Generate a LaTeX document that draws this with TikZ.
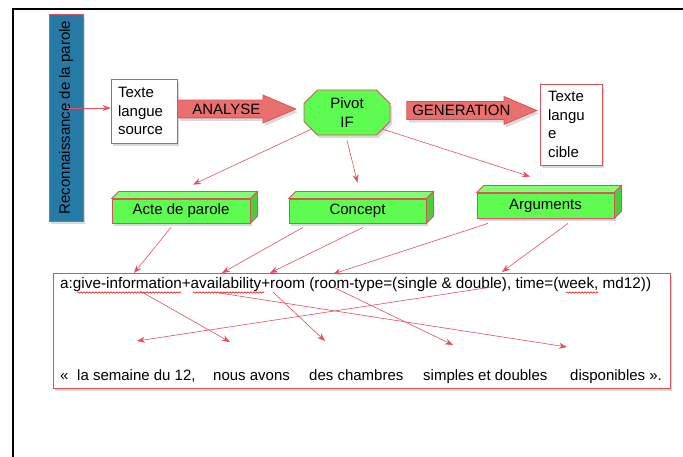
\documentclass[tikz,border=0pt]{standalone}
\usepackage{fontspec}
\setmainfont{Liberation Sans}
\usetikzlibrary{arrows.meta,shapes.arrows,shapes.misc,shadows,decorations.pathmorphing}
\definecolor{vertif}{RGB}{94,252,80}
\definecolor{vertclair}{RGB}{130,255,115}
\definecolor{vertsombre}{RGB}{72,208,60}
\definecolor{bleureco}{RGB}{38,122,166}
\definecolor{rougebord}{RGB}{218,82,92}
\definecolor{rougelien}{RGB}{226,80,96}
\definecolor{saumon}{RGB}{234,112,112}
\tikzset{
  box_base/.style = {font=\fontsize{15}{18.5}\selectfont, inner sep=0pt,
    line width=0.8pt, draw=rougebord},
  ombre/.style = {drop shadow={opacity=0.3, shadow xshift=2pt,
    shadow yshift=-3pt}},
  box_reco/.style = {box_base, fill=bleureco, rotate=90,
    minimum width=207pt, minimum height=34pt, ombre},% bande verticale
  box_txt/.style = {box_base, fill=white, align=left, ombre},% texte source, cible
  box_pivot/.style = {box_base, chamfered rectangle, fill=vertif,
    chamfered rectangle xsep=10pt, chamfered rectangle angle=45,
    minimum width=86pt, minimum height=45pt, align=center, ombre},
  box_3d/.style = {box_base, fill=vertif, minimum width=138pt,
    minimum height=24pt, ombre},% face avant des blocs
  box_fl/.style = {box_base, single arrow, fill=saumon,
    single arrow head extend=5pt, single arrow tip angle=46,
    text height=11pt, text depth=0pt,
    inner ysep=3pt, inner xsep=0pt, ombre},% grosse fleche
  box_sortie/.style = {box_base, fill=white, minimum width=617pt,
    minimum height=115pt, ombre},
  mot/.style = {font=\fontsize{15}{18}\selectfont, inner sep=0pt,
    anchor=base west},
  lien/.style = {->, draw=rougelien, line width=0.6pt},
  face_haut/.style = {fill=vertclair, draw=rougebord, line width=0.8pt},
  face_cote/.style = {fill=vertsombre, draw=rougebord, line width=0.8pt},
  souligne/.style = {draw=red!85!black, line width=0.5pt, decorate,
    decoration={snake, amplitude=0.7pt, segment length=3pt}}
}

\begin{document}
\begin{tikzpicture}[x=1pt,y=-1pt,>={Stealth[length=8pt,width=6pt]}]
  \useasboundingbox (0,0) rectangle (683,457);
  \draw[line width=2pt] (13,457) -- (13,9) -- (683,9);

  \node[box_reco] (reco) at (66,117.5) {Reconnaissance de la parole};
  \node[box_txt, text width=52pt, inner xsep=7pt, minimum height=64pt]
    (src) at (144,111) {Texte\\langue\\source};
  \node[box_pivot] (pivot) at (347,112.5) {Pivot\\IF};
  \node[box_txt, text width=46pt, inner xsep=8pt, minimum height=81pt]
    (cible) at (571,124.5) {Texte\\langu\\e\\cible};
  \node[box_fl, minimum height=118pt, anchor=tail] (analyse)
    at ([yshift=2pt]src.east) {ANALYSE};
  \node[box_fl, minimum height=130pt, anchor=tail] (gen)
    at ([shift={(16,-2)}]pivot.east) {GENERATION};

  \node[box_3d] (acte) at (181,211) {Acte de parole};
  \node[box_3d, minimum width=137pt] (concept) at (357.5,211) {Concept};
  \node[box_3d, minimum width=137pt, minimum height=25pt] (args)
    at (545.5,205.5) {Arguments};
  \foreach \b in {acte,concept,args}{
    \draw[face_haut] (\b.north west) -- ([shift={(7,-7)}]\b.north west)
      -- ([shift={(7,-7)}]\b.north east) -- (\b.north east) -- cycle;
    \draw[face_cote] (\b.north east) -- ([shift={(7,-7)}]\b.north east)
      -- ([shift={(7,-7)}]\b.south east) -- (\b.south east) -- cycle;
  }

  \node[box_sortie] (sortie) at (361.5,330.5) {};
  \node[mot, font=\fontsize{15.3}{18}\selectfont] (ifline) at (60,289)
    {a:give-information+availability+room (room-type=(single \& double), time=(week, md12))};
  \node[mot] (w0) at (60,380) {«};
  \node[mot] (w1) at (77,380) {la semaine du 12,};
  \node[mot] (w2) at (213,380) {nous avons};
  \node[mot] (w3) at (309,380) {des chambres};
  \node[mot] (w4) at (423,380) {simples et doubles};
  \node[mot] (w5) at (570,380) {disponibles ».};
  \draw[souligne] (77,292.5) -- (181,292.5);
  \draw[souligne] (193,292.5) -- (264,292.5);
  \draw[souligne] (566,292.5) -- (598,292.5);

  % points dans le cadre
  \coordinate (t-acte) at (134,273);
  \coordinate (t-avail) at (222,273);
  \coordinate (t-room) at (270,273);
  \coordinate (t-type) at (333,274);
  \coordinate (t-double) at (502,272);
  \coordinate (p-info) at (140,291);
  \coordinate (p-avail) at (213,292);
  \coordinate (p-room) at (273,292);
  \coordinate (p-type) at (333,287);
  \coordinate (p-double) at (492,287);
  \coordinate (m-semaine) at (137,341);
  \coordinate (m-nous) at (230,342);
  \coordinate (m-chambres) at (325,341);
  \coordinate (m-simples) at (453,345);
  \coordinate (m-dispo) at (567,347);

  \draw[lien] ([yshift=3pt]src.west -| reco.east) -- ([yshift=3pt]src.west);
  \draw[lien] (pivot.205) -- ([shift={(12,-14)}]acte.north);
  \draw[lien] ([yshift=-5pt]pivot.south) -- ([shift={(0,-16)}]concept.north);
  \draw[lien] (pivot.335) -- ([shift={(-15.5,-16)}]args.north);
  \draw[lien] ([shift={(-10,4)}]acte.south) -- (t-acte);
  \draw[lien] ([shift={(-54.5,4)}]concept.south) -- (t-avail);
  \draw[lien] ([shift={(5.5,4)}]concept.south) -- (t-room);
  \draw[lien] ([shift={(-57.5,5)}]args.south) -- (t-type);
  \draw[lien] ([shift={(22.5,5)}]args.south) -- (t-double);
  \draw[lien] (p-info) -- (m-nous);
  \draw[lien] (p-avail) -- (m-dispo);
  \draw[lien] (p-room) -- (m-chambres);
  \draw[lien] (p-type) -- (m-simples);
  \draw[lien] (p-double) -- (m-semaine);
\end{tikzpicture}
\end{document}
